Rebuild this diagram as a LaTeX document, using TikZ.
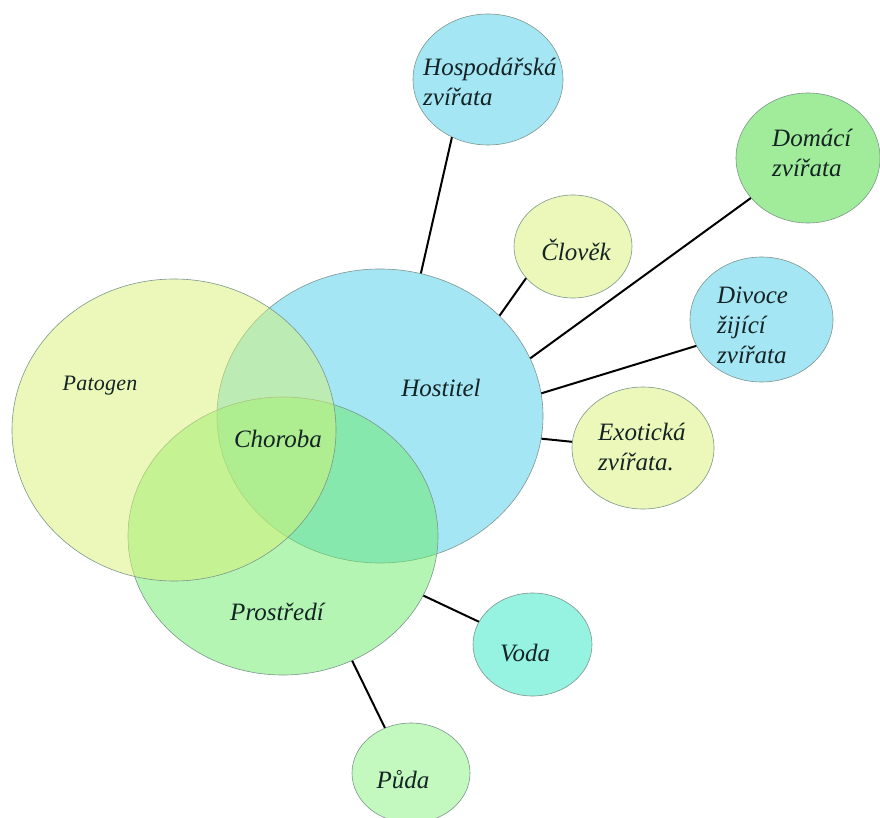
\documentclass[tikz,border=0pt]{standalone}
\usepackage{fontspec}
\setmainfont{Liberation Serif}
\usepackage{xcolor}
\usetikzlibrary{shapes.geometric}

\definecolor{hostcol}{RGB}{75,205,235}
\definecolor{patcol}{RGB}{215,241,115}
\definecolor{prostcol}{RGB}{105,235,105}
\definecolor{skyblue}{RGB}{165,230,245}
\definecolor{paleyellow}{RGB}{235,248,185}
\definecolor{leafgreen}{RGB}{160,236,155}
\definecolor{aqua}{RGB}{150,242,225}
\definecolor{mint}{RGB}{195,248,190}
\definecolor{rim}{RGB}{125,150,140}
\definecolor{ink}{RGB}{20,35,35}

\tikzset{
  blob/.style={ellipse, draw=rim, line width=0.6pt, inner sep=0pt},
  bigblob/.style={blob, fill opacity=0.5, draw opacity=1},
  link/.style={line width=2pt, black},
  lbl/.style={inner sep=0pt, text=ink, align=left, font=\itshape\fontsize{25}{30}\selectfont}
}

\begin{document}
\begin{tikzpicture}[x=1pt, y=-1pt]
            \useasboundingbox (0,0) rectangle (880,818);

            \node[bigblob, fill=hostcol, minimum width=326pt, minimum height=294pt] (host) at (380,416) {};
            \node[bigblob, fill=prostcol, minimum width=310pt, minimum height=278pt] (prost) at (283,536) {};
            \node[bigblob, fill=patcol, minimum width=324pt, minimum height=302pt] (pat) at (174,430) {};

            \node[blob, fill=skyblue, minimum width=150pt, minimum height=131pt] (hosp) at (488,79.5) {};
            \node[blob, fill=leafgreen, minimum width=144pt, minimum height=130pt] (domaci) at (808,158) {};
            \node[blob, fill=paleyellow, minimum width=118pt, minimum height=103pt] (clovek) at (573,246.5) {};
            \node[blob, fill=skyblue, minimum width=143pt, minimum height=125pt] (divoce) at (761.5,319.5) {};
            \node[blob, fill=paleyellow, minimum width=142pt, minimum height=122pt] (exot) at (643,448) {};
            \node[blob, fill=aqua, minimum width=119pt, minimum height=103pt] (voda) at (532.5,644.5) {};
            \node[blob, fill=mint, minimum width=118pt, minimum height=100pt] (puda) at (411,773) {};

            \draw[link] (hosp.238.5) -- (host.74);
            \draw[link] (clovek.214) -- (host.40);
            \draw[link] (domaci.215) -- (host.21);
            \draw[link] (divoce.202) -- (host.8);
            \draw[link] (exot.175) -- (host.-8);
            \draw[link] (voda.157) -- (prost.-23.5);
            \draw[link] (puda.120) -- (prost.-61);

            \node[lbl] (hostlbl) at (441,388) {Hostitel};
            \node[lbl, font=\itshape\fontsize{22}{26}\selectfont\addfontfeature{LetterSpace=1}] (patlbl) at (100,386) {Patogen};
            \node[lbl] (chorlbl) at (278,439) {Choroba};
            \node[lbl] (prostlbl) at (277,612) {Prostředí};

            \node[lbl, anchor=west] (hosplbl) at (423,82) {Hospodářská\\zvířata};
            \node[lbl, anchor=west] (domacilbl) at (772,153) {Domácí\\zvířata};
            \node[lbl] (clovlbl) at (576,250) {Člověk};
            \node[lbl, anchor=west] (divlbl) at (717,325) {Divoce\\žijící\\zvířata};
            \node[lbl, anchor=west] (exotlbl) at (598,447) {Exotická\\zvířata.};
            \node[lbl] (vodalbl) at (525,653) {Voda};
            \node[lbl] (pudalbl) at (403,780) {Půda};
        \end{tikzpicture}
\end{document}
